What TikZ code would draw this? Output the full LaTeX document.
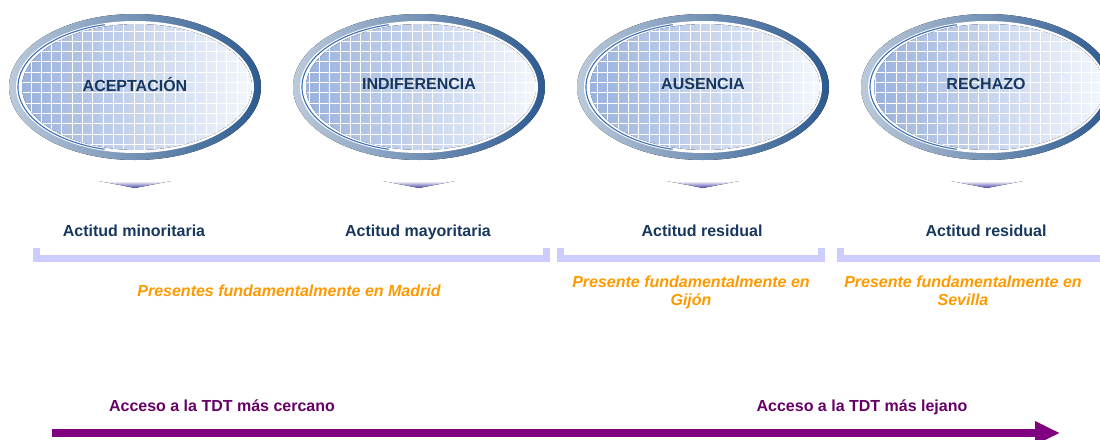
\documentclass[tikz,border=0pt]{standalone}
\usepackage{fontspec}
\setmainfont{Liberation Sans}
\usetikzlibrary{arrows.meta}

\definecolor{navy}{HTML}{17375E}
\definecolor{ringlight}{HTML}{BCCADB}
\definecolor{ringdark}{HTML}{2C5A90}
\definecolor{rimblue}{HTML}{3D6FB4}
\definecolor{corelight}{HTML}{9BB2DD}
\definecolor{corepale}{HTML}{F4F7FC}
\definecolor{wedgeblue}{HTML}{4444AA}
\definecolor{lavender}{HTML}{CCCCFF}
\definecolor{ambar}{HTML}{FF9900}
\definecolor{morado}{HTML}{800080}
\definecolor{moradotxt}{HTML}{660066}

\tikzset{
  ring/.style={left color=ringlight, right color=ringdark},
  core/.style={left color=corelight, right color=corepale},
  rim/.style={draw=rimblue, line width=1.1pt},
  mesh/.style={white, line width=0.8pt},
  wedge/.style={top color=white, bottom color=wedgeblue},
  title/.style={font=\bfseries\fontsize{16}{19}\selectfont, text=navy, anchor=base, inner sep=0pt},
  stance/.style={font=\bfseries\fontsize{16}{19}\selectfont, text=navy, anchor=base, inner sep=0pt},
  place/.style={font=\bfseries\itshape\fontsize{16}{18}\selectfont, text=ambar, align=center, anchor=base, inner sep=0pt},
  access/.style={font=\bfseries\fontsize{16}{19}\selectfont, text=moradotxt, anchor=base, inner sep=0pt},
  bracket/.style={lavender, line width=7pt},
  axis/.style={morado, line width=8pt, -{Triangle[length=25pt,width=22pt]}}
}

\begin{document}
\begin{tikzpicture}[x=1pt,y=-1pt]
	\useasboundingbox (0,0) rectangle (1100,439);
	% ellipses
	\foreach \cx in {135,419,703,987}{
		\fill[ring] (\cx,87) ellipse [x radius=126pt, y radius=73pt];
		\fill[white] (\cx,87) ellipse [x radius=119pt, y radius=66pt];
		\fill[core] (\cx+2,87) ellipse [x radius=115pt, y radius=63pt];
		\begin{scope}
			\clip (\cx+2,87) ellipse [x radius=115pt, y radius=63pt];
			\draw[mesh] (\cx-120,15) grid[step=10.3pt] (\cx+120,160);
		\end{scope}
		\draw[rim] (\cx,87) ++(105:117pt and 64.5pt) arc [start angle=105, end angle=255, x radius=117pt, y radius=64.5pt];
		\fill[wedge] (\cx-36,181) -- (\cx+36,181) -- (\cx,188) -- cycle;
	}
	\node[title] (acep) at (135,91) {ACEPTACIÓN};
	\node[title] (indif) at (419,89) {INDIFERENCIA};
	\node[title] (ausen) at (703,89) {AUSENCIA};
	\node[title] (rech) at (986,89) {RECHAZO};
	% attitudes
	\node[stance] (minor) at (134,236) {Actitud minoritaria};
	\node[stance] (mayor) at (418,236) {Actitud mayoritaria};
	\node[stance] (resid1) at (702,236) {Actitud residual};
	\node[stance] (resid2) at (986,236) {Actitud residual};
	% brackets
	\draw[bracket] (36.5,248) -- (36.5,258.5) -- (546.5,258.5) -- (546.5,248);
	\draw[bracket] (560,248) -- (560,258.5) -- (821.5,258.5) -- (821.5,248);
	\draw[bracket] (840,248) -- (840,258.5) -- (1104,258.5);
	% places
	\node[place] (madrid) at (289,296) {Presentes fundamentalmente en Madrid};
	\node[place] (gijon) at (691,305) {Presente fundamentalmente en\\Gijón};
	\node[place] (sevilla) at (963,305) {Presente fundamentalmente en\\Sevilla};
	% access axis
	\node[access] (cerca) at (222,411) {Acceso a la TDT más cercano};
	\node[access] (lejos) at (862,411) {Acceso a la TDT más lejano};
	\coordinate (axisL) at (52,433);
	\coordinate (axisR) at (1060,433);
	\draw[axis] (axisL) -- (axisR);
\end{tikzpicture}
\end{document}
